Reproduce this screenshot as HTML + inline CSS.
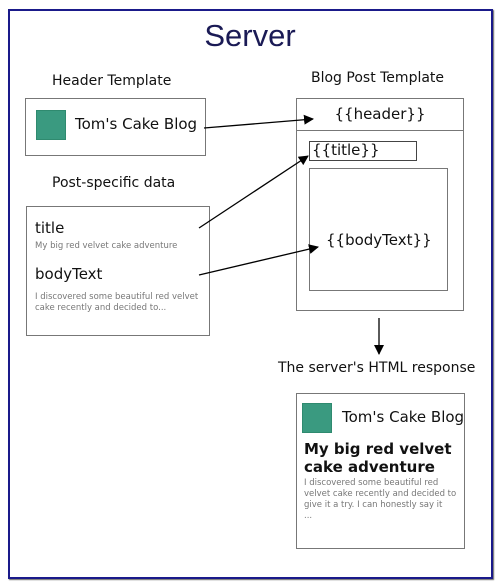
<!DOCTYPE html>
<html><head><meta charset="utf-8"><style>
body{margin:0;width:500px;height:585px;background:#fff;position:relative;font-family:"DejaVu Sans","Liberation Sans",sans-serif;color:#111;overflow:hidden}
.a{position:absolute;white-space:nowrap}
.box{position:absolute;border:1.5px solid #777;box-sizing:border-box;background:#fff}
.g{position:absolute;background:#3a9a80;border:1px solid #2f8a6f}
.s{font-size:8.5px;color:#777}
</style></head><body>
<div style="position:absolute;left:8px;top:9px;width:485px;height:570px;border:2.5px solid #1a1a8a;box-sizing:border-box;box-shadow:1px 1px 1px #666"></div>
<div class="a" style="left:0;width:500px;text-align:center;top:18px;font-size:31px;color:#1a1a55;font-family:'Liberation Sans',sans-serif">Server</div>
<div class="a" style="left:52px;top:73px;font-size:14px">Header Template</div>
<div class="a" style="left:311px;top:70px;font-size:14px">Blog Post Template</div>
<div class="box" style="left:25px;top:98px;width:181px;height:58px"></div>
<div class="g" style="left:36px;top:110px;width:28px;height:28px"></div>
<div class="a" style="left:75px;top:115px;font-size:15px">Tom's Cake Blog</div>
<div class="a" style="left:52px;top:175px;font-size:14px">Post-specific data</div>
<div class="box" style="left:26px;top:206px;width:184px;height:130px"></div>
<div class="a" style="left:35px;top:219px;font-size:15px">title</div>
<div class="a s" style="left:35px;top:241px">My big red velvet cake adventure</div>
<div class="a" style="left:35px;top:265px;font-size:15px">bodyText</div>
<div class="a s" style="left:35px;top:292px;line-height:11px">I discovered some beautiful red velvet<br>cake recently and decided to...</div>
<div class="box" style="left:296px;top:98px;width:168px;height:213px"></div>
<div class="box" style="left:296px;top:98px;width:168px;height:33px"></div>
<div class="a" style="left:296px;width:168px;text-align:center;top:105px;font-size:15px">{{header}}</div>
<div class="box" style="left:309px;top:141px;width:108px;height:20px;border-color:#444"></div>
<div class="a" style="left:312px;top:141px;font-size:15px">{{title}}</div>
<div class="box" style="left:309px;top:168px;width:139px;height:123px;border-width:1px"></div>
<div class="a" style="left:326px;top:231px;font-size:15px">{{bodyText}}</div>
<div class="a" style="left:278px;top:360px;font-size:14px">The server's HTML response</div>
<div class="box" style="left:296px;top:393px;width:169px;height:156px"></div>
<div class="g" style="left:302px;top:403px;width:28px;height:28px"></div>
<div class="a" style="left:342px;top:408px;font-size:15px">Tom's Cake Blog</div>
<div class="a" style="left:304px;top:440px;font-size:15px;font-weight:bold;line-height:18px">My big red velvet<br>cake adventure</div>
<div class="a s" style="left:304px;top:478px;line-height:11px">I discovered some beautiful red<br>velvet cake recently and decided to<br>give it a try. I can honestly say it<br>...</div>
<svg width="500" height="585" style="position:absolute;left:0;top:0">
<defs><marker id="m" markerWidth="10" markerHeight="10" refX="9" refY="5" orient="auto" markerUnits="userSpaceOnUse"><path d="M0,0L10,5L0,10z" fill="#000"/></marker></defs>
<g stroke="#000" stroke-width="1.3" fill="none">
<line x1="204" y1="128" x2="313" y2="119" marker-end="url(#m)"/>
<line x1="199" y1="228" x2="308" y2="156" marker-end="url(#m)"/>
<line x1="199" y1="275" x2="318" y2="247" marker-end="url(#m)"/>
<line x1="379" y1="318" x2="379" y2="354" marker-end="url(#m)"/>
</g></svg>
</body></html>
